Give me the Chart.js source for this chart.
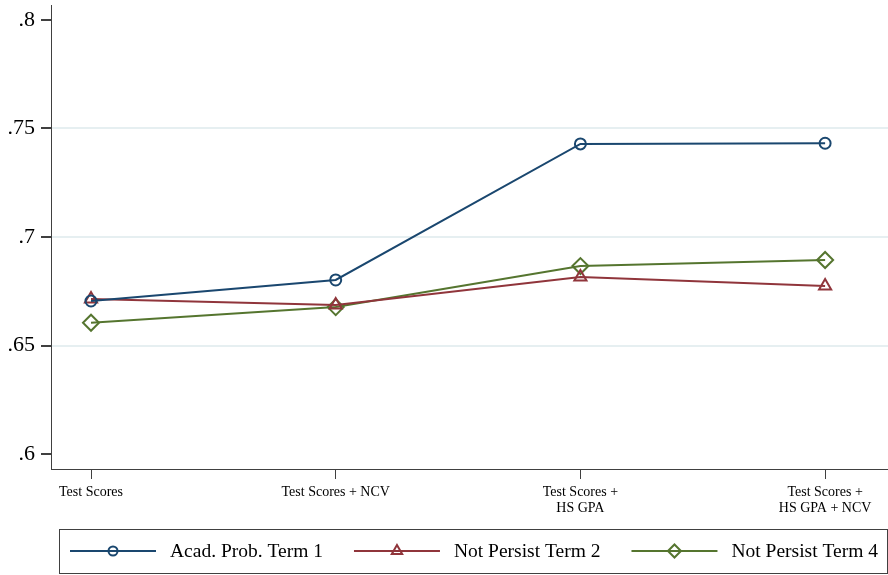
<!DOCTYPE html>
<html>
<head>
<meta charset="utf-8">
<script src="https://cdn.jsdelivr.net/npm/chart.js@4/dist/chart.umd.min.js"></script>
<style>
  html, body { margin: 0; padding: 0; background: #fff; }
  canvas { display: block; }
</style>
</head>
<body>
<canvas id="myChart" width="888" height="575"></canvas>
<script>
const SERIF = "'Liberation Serif', 'Times New Roman', serif";

// model specifications (x axis)
const categories = [
    ['Test Scores'],
    ['Test Scores + NCV'],
    ['Test Scores +', 'HS GPA'],
    ['Test Scores +', 'HS GPA + NCV'],
];

// series values
const acadProbTerm1 = [0.6705, 0.6802, 0.7429, 0.7432];
const notPersistTerm2 = [0.6714, 0.6687, 0.6816, 0.6774];
const notPersistTerm4 = [0.6605, 0.6677, 0.6866, 0.6894];

const yTicks = [0.6, 0.65, 0.7, 0.75, 0.8];

const seriesNames = ['Acad. Prob. Term 1', 'Not Persist Term 2', 'Not Persist Term 4'];
const seriesColors = ['#1a476f', '#90353b', '#55752f'];
const seriesMarkers = ['circle', 'triangle', 'rectRot'];
const markerSizes = [5.5, 7, 8];
const legendMarkerSizes = [4.5, 6, 6.5];

const toPoints = values => values.map((v, i) => ({ x: i, y: v }));

const datasets = [acadProbTerm1, notPersistTerm2, notPersistTerm4].map((values, i) => ({
    label: seriesNames[i],
    data: toPoints(values),
    borderColor: seriesColors[i],
    borderWidth: 2,
    pointStyle: seriesMarkers[i],
    pointRadius: markerSizes[i],
    pointBorderWidth: 2,
    pointBorderColor: seriesColors[i],
    pointBackgroundColor: 'rgba(0,0,0,0)',
    tension: 0,
}));

const formatY = v => v.toFixed(2).replace(/0$/, '').replace(/^0/, '');

// legend drawn as line + marker + text inside a box, like the Stata one
const boxLegend = {
    id: 'boxLegend',
    afterDraw(chart) {
        const ctx = chart.ctx;
        const top = 529, bottom = 573, left = 59, right = 887;
        const midY = (top + bottom) / 2;
        ctx.save();
        ctx.strokeStyle = '#404040';
        ctx.lineWidth = 1;
        ctx.strokeRect(left + 0.5, top + 0.5, right - left, bottom - top);

        ctx.font = '19.5px ' + SERIF;
        ctx.textBaseline = 'middle';
        ctx.fillStyle = '#000';
        let x = 70;
        chart.data.datasets.forEach((ds, i) => {
            ctx.strokeStyle = ds.borderColor;
            ctx.lineWidth = 2;
            ctx.beginPath();
            ctx.moveTo(x, midY);
            ctx.lineTo(x + 86, midY);
            ctx.stroke();
            ctx.fillStyle = 'rgba(0,0,0,0)';
            Chart.helpers.drawPoint(ctx, {
                pointStyle: ds.pointStyle,
                radius: legendMarkerSizes[i],
                borderWidth: 2,
                rotation: 0,
            }, x + 43, midY);
            ctx.fillStyle = '#000';
            ctx.fillText(ds.label, x + 100, midY + 1);
            x += 100 + ctx.measureText(ds.label).width + 31;
        });
        ctx.restore();
    }
};

// keep the plot region fixed: no extra room for overhanging tick labels
const noLabelPadding = scale => {
    scale.paddingTop = 0;
    scale.paddingBottom = 0;
    scale.paddingLeft = 0;
    scale.paddingRight = 0;
};

new Chart(document.getElementById('myChart'), {
    type: 'line',
    data: { datasets },
    options: {
        responsive: false,
        animation: false,
        devicePixelRatio: 1,
        layout: { autoPadding: false, padding: { top: 5, right: 0, left: 0, bottom: 0 } },
        plugins: {
            legend: { display: false },
            tooltip: { enabled: false },
        },
        scales: {
            x: {
                type: 'linear',
                min: -0.1635,
                max: 3.257,
                afterBuildTicks: scale => {
                    scale.ticks = categories.map((c, i) => ({ value: i }));
                },
                afterFit: scale => {
                    scale.height = 106;
                    noLabelPadding(scale);
                },
                ticks: {
                    autoSkip: false,
                    maxRotation: 0,
                    padding: 5,
                    color: '#000',
                    font: { family: SERIF, size: 14, lineHeight: 1.15 },
                    callback: v => categories[v],
                },
                grid: {
                    drawOnChartArea: false,
                    drawTicks: true,
                    tickLength: 10,
                    tickColor: '#404040',
                },
                border: { color: '#404040', width: 1 },
            },
            y: {
                min: 0.5931,
                max: 0.8069,
                afterBuildTicks: scale => {
                    scale.ticks = yTicks.map(v => ({ value: v }));
                },
                afterFit: scale => {
                    scale.width = 51;
                    noLabelPadding(scale);
                },
                ticks: {
                    padding: 6,
                    color: '#000',
                    font: { family: SERIF, size: 22 },
                    callback: v => formatY(v),
                },
                grid: {
                    color: ctx => {
                        const v = ctx.tick ? ctx.tick.value : null;
                        return (v === 0.6 || v === 0.8) ? 'rgba(0,0,0,0)' : '#e6eff1';
                    },
                    lineWidth: 2,
                    tickLength: 10,
                    tickColor: '#404040',
                },
                border: { color: '#404040', width: 1 },
            },
        },
    },
    plugins: [boxLegend],
});
</script>
</body>
</html>
